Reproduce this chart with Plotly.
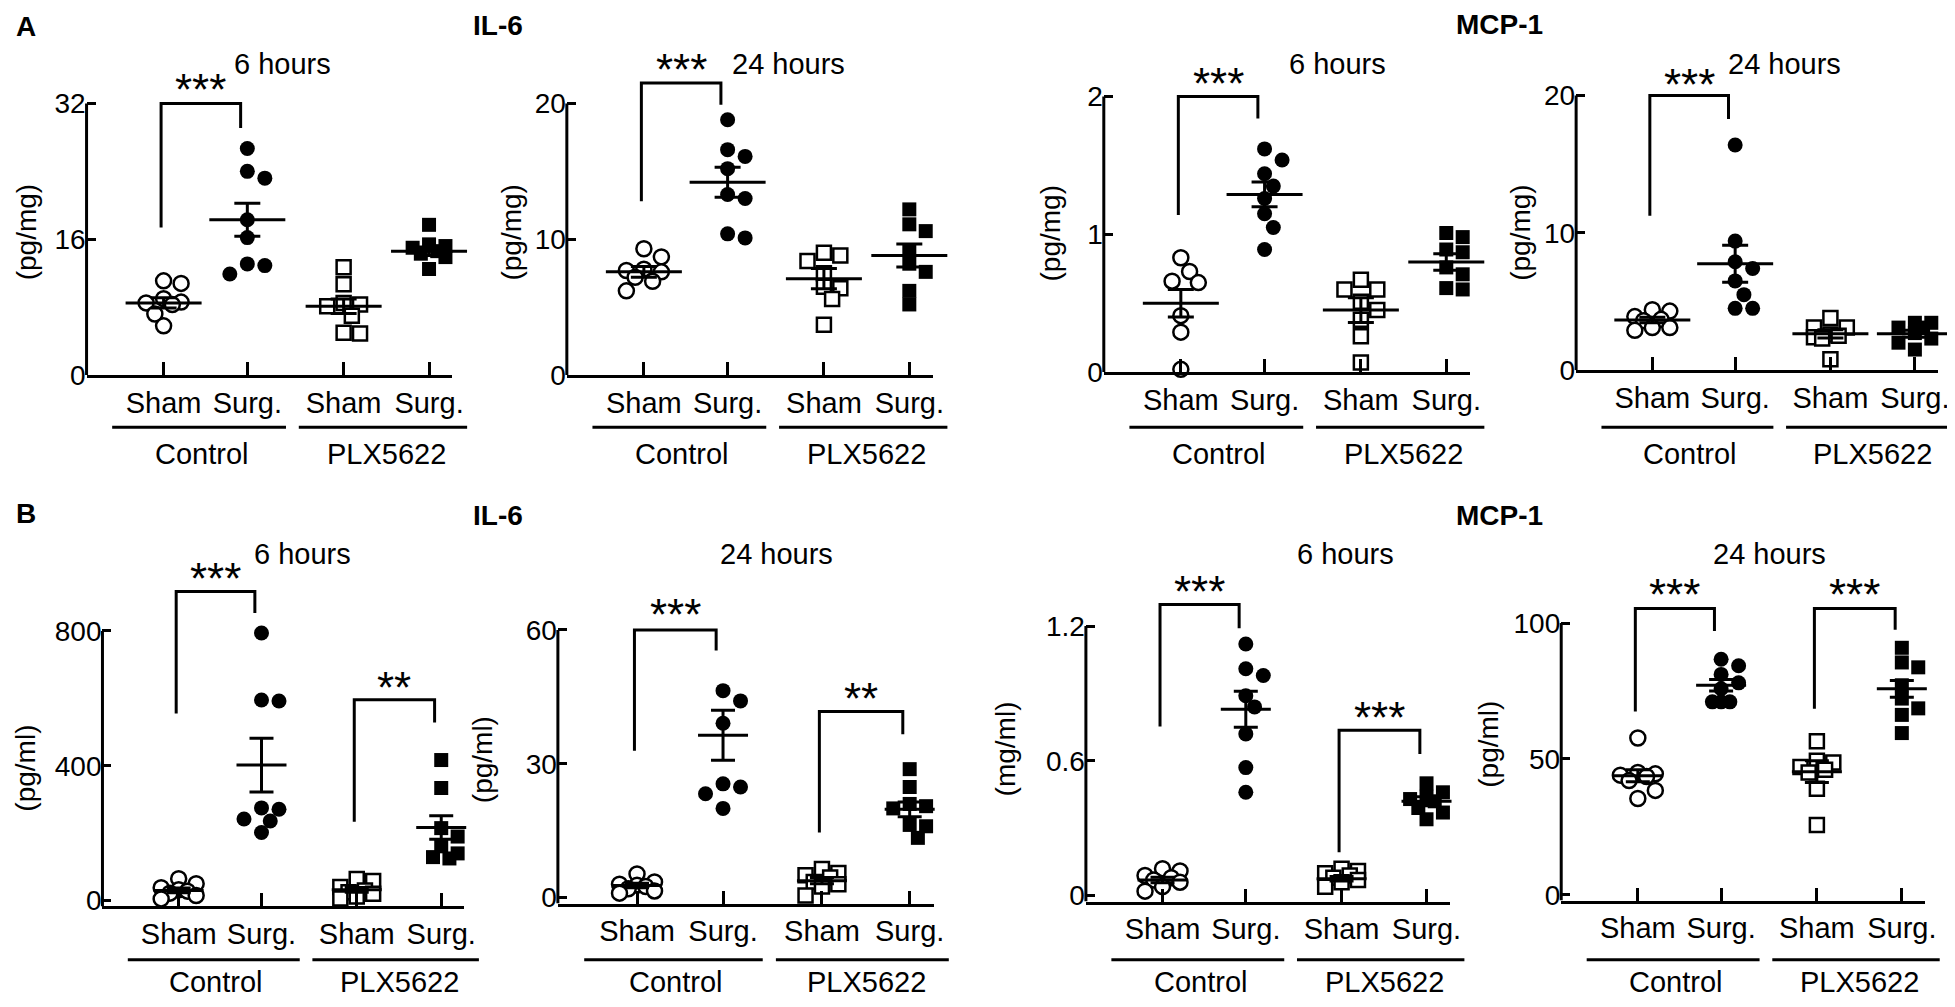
import plotly.graph_objects as go

W, H = 1955, 1007
FONT = "Liberation Sans, Arial, Helvetica, sans-serif"

# ---------------- categories ----------------
group_labels = ["Sham", "Surg.", "Sham", "Surg."]
treatments = ["Control", "PLX5622"]
group_x = [1, 2, 3.15, 4.17]
x_range = [0.08, 4.45]

# ---------------- A: tissue (pg/mg) ----------------
# order in every panel: Control Sham, Control Surg., PLX5622 Sham, PLX5622 Surg.
a_il6_6h = [
    [11.1, 10.8, 9.0, 8.6, 8.5, 8.3, 7.2, 5.8],
    [26.7, 24.0, 23.2, 18.3, 16.2, 13.1, 12.9, 11.9],
    [12.7, 10.7, 8.5, 8.3, 8.1, 7.0, 5.0, 4.9],
    [17.7, 15.4, 15.2, 15.0, 14.6, 14.3, 13.9, 12.5],
]
a_il6_6h_mean = [8.5, 18.3, 8.1, 14.6]
a_il6_6h_sem = [0.6, 1.95, 0.85, 0.5]

a_il6_24h = [
    [9.3, 8.7, 7.8, 7.7, 7.6, 7.2, 6.9, 6.2],
    [18.8, 16.6, 16.1, 15.2, 13.3, 13.0, 10.4, 10.1],
    [9.0, 8.8, 8.4, 7.5, 6.5, 6.4, 5.6, 3.7],
    [12.2, 11.1, 10.6, 9.2, 8.2, 7.6, 6.2, 5.2],
]
a_il6_24h_mean = [7.6, 14.2, 7.1, 8.8]
a_il6_24h_sem = [0.4, 1.1, 0.75, 0.85]

a_mcp1_6h = [
    [0.83, 0.73, 0.66, 0.65, 0.41, 0.29, 0.02],
    [1.62, 1.54, 1.44, 1.35, 1.26, 1.15, 1.05, 0.89],
    [0.67, 0.60, 0.60, 0.51, 0.45, 0.38, 0.26, 0.07],
    [1.01, 0.98, 0.89, 0.87, 0.76, 0.71, 0.61, 0.60],
]
a_mcp1_6h_mean = [0.50, 1.29, 0.45, 0.80]
a_mcp1_6h_sem = [0.10, 0.09, 0.09, 0.06]

a_mcp1_24h = [
    [4.4, 4.3, 3.9, 3.7, 3.6, 3.1, 3.1, 2.9],
    [16.4, 9.4, 7.9, 7.4, 6.5, 5.5, 4.5, 4.5],
    [3.8, 3.1, 3.1, 2.6, 2.5, 2.4, 2.3, 0.8],
    [3.45, 3.45, 3.1, 3.1, 2.7, 2.3, 2.0, 1.5],
]
a_mcp1_24h_mean = [3.65, 7.75, 2.65, 2.65]
a_mcp1_24h_sem = [0.2, 1.35, 0.3, 0.25]

# ---------------- B: plasma ----------------
b_il6_6h = [
    [65, 50, 38, 32, 28, 22, 15, 5],
    [794, 595, 592, 275, 271, 242, 236, 202],
    [64, 58, 40, 30, 25, 20, 12, 6],
    [417, 334, 215, 190, 161, 140, 129, 125],
]
b_il6_6h_mean = [30, 402, 32, 217]
b_il6_6h_sem = [7, 80, 7, 35]

b_il6_24h = [
    [5.3, 3.5, 3.0, 2.8, 2.5, 2.0, 1.5, 1.0],
    [46.4, 44.1, 39.1, 25.5, 24.8, 23.3, 20.0],
    [6.4, 5.5, 5.0, 4.5, 3.5, 3.0, 2.5, 0.5],
    [28.8, 24.8, 21.0, 20.5, 20.0, 16.3, 16.0, 13.4],
]
b_il6_24h_mean = [2.7, 36.4, 3.8, 19.8]
b_il6_24h_sem = [0.5, 5.6, 0.7, 1.65]

b_mcp1_6h = [
    [0.12, 0.11, 0.09, 0.08, 0.07, 0.06, 0.04, 0.02],
    [1.12, 1.01, 0.98, 0.89, 0.84, 0.72, 0.57, 0.46],
    [0.12, 0.11, 0.10, 0.09, 0.08, 0.07, 0.06, 0.04],
    [0.50, 0.46, 0.44, 0.43, 0.42, 0.39, 0.37, 0.34],
]
b_mcp1_6h_mean = [0.07, 0.83, 0.075, 0.42]
b_mcp1_6h_sem = [0.012, 0.08, 0.01, 0.02]

b_mcp1_24h = [
    [57.7, 45.0, 44.5, 44.0, 43.5, 42.0, 38.4, 35.4],
    [86.7, 84.3, 81.1, 78.0, 75.8, 71.0, 71.0, 71.0],
    [56.5, 49.3, 48.7, 47.0, 46.0, 45.0, 39.0, 25.7],
    [90.9, 85.5, 83.7, 77.1, 72.2, 68.6, 66.2, 59.5],
]
b_mcp1_24h_mean = [43.8, 77.1, 45.3, 75.8]
b_mcp1_24h_sem = [2.2, 2.1, 4.0, 3.1]

# significance brackets: (first group, left end, top, right end, stars, stars height)
a_il6_6h_sig = [(0, 17.4, 32.0, 29.1, "***", 34.0)]
a_il6_24h_sig = [(0, 12.8, 21.5, 19.9, "***", 22.7)]
a_mcp1_6h_sig = [(0, 1.14, 2.0, 1.84, "***", 2.12)]
a_mcp1_24h_sig = [(0, 11.25, 20.0, 18.3, "***", 21.0)]
b_il6_6h_sig = [(0, 555, 917, 853, "***", 963), (2, 234, 596, 528, "**", 642)]
b_il6_24h_sig = [(0, 32.9, 60, 55.4, "***", 64.2), (2, 14.6, 41.7, 36.6, "**", 45.4)]
b_mcp1_6h_sig = [(0, 0.753, 1.296, 1.19, "***", 1.367), (2, 0.193, 0.736, 0.631, "***", 0.806)]
b_mcp1_24h_sig = [(0, 67.4, 105.4, 97.1, "***", 111.6), (2, 68.5, 105.4, 97.5, "***", 111.6)]

# ---------------- panel layout (pixels) ----------------
rows = {
    "A": dict(offset=0, dom_top=25, title_y=57, label_y=453, line_y=426, mean_len=76, cap=13),
    "B": dict(offset=6, dom_top=530, title_y=555, label_y=990, line_y=967, mean_len=50, cap=12),
}

panels = [
    dict(row="A", data=a_il6_6h, mean=a_il6_6h_mean, sem=a_il6_6h_sem, sig=a_il6_6h_sig,
         ticks=[0, 16, 32], left=79, right=447, zero=373, top_px=97,
         title="6 hours", title_x=0.535, ylab="(pg/mg)", ylab_xy=(18, 228)),
    dict(row="A", data=a_il6_24h, mean=a_il6_24h_mean, sem=a_il6_24h_sem, sig=a_il6_24h_sig,
         ticks=[0, 10, 20], left=562, right=930, zero=373, top_px=97,
         title="24 hours", title_x=0.606, ylab="(pg/mg)", ylab_xy=(506, 228)),
    dict(row="A", data=a_mcp1_6h, mean=a_mcp1_6h_mean, sem=a_mcp1_6h_sem, sig=a_mcp1_6h_sig,
         ticks=[0, 1, 2], left=1102, right=1470, zero=370, top_px=90,
         title="6 hours", title_x=0.639, ylab="(pg/mg)", ylab_xy=(1048, 229)),
    dict(row="A", data=a_mcp1_24h, mean=a_mcp1_24h_mean, sem=a_mcp1_24h_sem, sig=a_mcp1_24h_sig,
         ticks=[0, 10, 20], left=1577, right=1941, zero=368, top_px=89,
         title="24 hours", title_x=0.575, ylab="(pg/mg)", ylab_xy=(1521, 228)),
    dict(row="B", data=b_il6_6h, mean=b_il6_6h_mean, sem=b_il6_6h_sem, sig=b_il6_6h_sig,
         ticks=[0, 400, 800], left=95, right=459, zero=907, top_px=633,
         title="6 hours", title_x=0.552, ylab="(pg/ml)", ylab_xy=(18, 772)),
    dict(row="B", data=b_il6_24h, mean=b_il6_24h_mean, sem=b_il6_24h_sem, sig=b_il6_24h_sig,
         ticks=[0, 30, 60], left=553, right=931, zero=904, top_px=632,
         title="24 hours", title_x=0.582, ylab="(pg/ml)", ylab_xy=(478, 764)),
    dict(row="B", data=b_mcp1_6h, mean=b_mcp1_6h_mean, sem=b_mcp1_6h_sem, sig=b_mcp1_6h_sig,
         ticks=[0, 0.6, 1.2], left=1084, right=1450, zero=902, top_px=628,
         title="6 hours", title_x=0.713, ylab="(mg/ml)", ylab_xy=(1003, 753)),
    dict(row="B", data=b_mcp1_24h, mean=b_mcp1_24h_mean, sem=b_mcp1_24h_sem, sig=b_mcp1_24h_sig,
         ticks=[0, 50, 100], left=1562, right=1928, zero=901, top_px=625,
         title="24 hours", title_x=0.571, ylab="(pg/ml)", ylab_xy=(1488, 748)),
]

header_labels = [("A", 18, 19), ("IL-6", 493, 18), ("MCP-1", 1500, 17),
                 ("B", 18, 514), ("IL-6", 493, 516), ("MCP-1", 1500, 516)]

marker_styles = [("circle", "white", 15), ("circle", "black", 15),
                 ("square", "white", 14), ("square", "black", 14)]


def swarm(vals, k, u, d):
    """compact beeswarm (overlap allowed, like GraphPad): offsets in x units"""
    step = 0.55 * d
    cands = [0.0, step, -step, 2 * step, -2 * step]
    placed = []
    out = []
    for v in vals:
        py = v * k
        best, best_gap = 0.0, -1.0
        for c in cands:
            gap = min((((c - qx) ** 2 + (py - qy) ** 2) ** 0.5 for qx, qy in placed), default=1e9)
            if gap >= 0.9 * d:
                best = c
                break
            if gap > best_gap + 0.5:
                best, best_gap = c, gap
        placed.append((best, py))
        out.append(best / u)
    return out


def text(x, y, s, size, **kw):
    d = dict(xref="paper", yref="paper", x=x, y=y, text=s, showarrow=False,
             xanchor="center", yanchor="middle", font=dict(size=size))
    d.update(kw)
    return d


fig = go.Figure()
layout = dict(width=W, height=H, margin=dict(l=0, r=0, t=0, b=0), autosize=False,
              paper_bgcolor="white", plot_bgcolor="white", showlegend=False,
              font=dict(family=FONT, color="black"))
shapes, annotations = [], []

for n, p in enumerate(panels, start=1):
    r = rows[p["row"]]
    sfx = "" if n == 1 else str(n)
    xr, yr = "x" + sfx, "y" + sfx
    top_val = p["ticks"][-1]
    k = (p["zero"] - p["top_px"]) / top_val
    wpx = p["right"] - p["left"]
    u = wpx / (x_range[1] - x_range[0])
    bottom_px = p["zero"] + r["offset"]
    ylo = -(bottom_px - p["zero"]) / k
    yhi = (p["zero"] - r["dom_top"]) / k

    layout["xaxis" + sfx] = dict(
        domain=[p["left"] / W, p["right"] / W], range=x_range, anchor=yr,
        tickvals=group_x, ticktext=group_labels, ticks="inside", ticklen=13, tickwidth=3,
        tickcolor="black", showline=True, linewidth=3, linecolor="black",
        showgrid=False, zeroline=False, tickfont=dict(size=29), fixedrange=True)
    layout["yaxis" + sfx] = dict(
        domain=[1 - bottom_px / H, 1 - r["dom_top"] / H], range=[ylo, yhi], anchor=xr,
        tickvals=p["ticks"], ticktext=[f"{t:g}" for t in p["ticks"]], ticks="inside",
        ticklen=9, tickwidth=3, tickcolor="black", showline=False, showgrid=False,
        zeroline=False, tickfont=dict(size=28), fixedrange=True)

    # points
    for g, vals in enumerate(p["data"]):
        sym, col, size = marker_styles[g]
        dx = swarm(vals, k, u, size + 1)
        fig.add_trace(go.Scatter(
            x=[group_x[g] + d for d in dx], y=vals, mode="markers", xaxis=xr, yaxis=yr,
            marker=dict(symbol=sym, size=size, color=col,
                        line=dict(color="black", width=2.5 if col == "white" else 0)),
            hoverinfo="y", cliponaxis=False))

    # mean +/- SEM
    fig.add_trace(go.Scatter(
        x=group_x, y=p["mean"], mode="markers", xaxis=xr, yaxis=yr,
        marker=dict(symbol="line-ew", size=r["mean_len"] / 1.4, color="black",
                    line=dict(color="black", width=3)),
        error_y=dict(type="data", array=p["sem"], visible=True, thickness=3,
                     width=r["cap"], color="black"),
        hoverinfo="y", cliponaxis=False))

    # y axis line only up to the top tick
    shapes.append(dict(type="line", xref=xr + " domain", yref=yr, x0=0, x1=0, y0=ylo, y1=top_val,
                       line=dict(color="black", width=3)))

    # significance brackets
    for g, yl, yt, yrt, stars, ys in p["sig"]:
        xl, xrt = group_x[g] - 0.03, group_x[g + 1] - 0.08
        shapes.append(dict(type="path", xref=xr, yref=yr,
                           path=f"M {xl},{yl} L {xl},{yt} L {xrt},{yt} L {xrt},{yrt}",
                           line=dict(color="black", width=3)))
        annotations.append(dict(xref=xr, yref=yr, x=(xl + xrt) / 2, y=ys,
                                text=stars, showarrow=False,
                                xanchor="center", yanchor="middle",
                                font=dict(size=44), yshift=-3))

    # group underline + treatment names
    for (a0, a1), cx, name in zip([(0.07, 0.545), (0.58, 1.04)], [0.315, 0.82], treatments):
        x0 = (p["left"] + a0 * wpx) / W
        x1 = (p["left"] + a1 * wpx) / W
        shapes.append(dict(type="line", xref="paper", yref="paper", x0=x0, x1=x1,
                           y0=1 - r["line_y"] / H, y1=1 - r["line_y"] / H,
                           line=dict(color="black", width=3)))
        annotations.append(text((p["left"] + cx * wpx) / W, 1 - r["label_y"] / H, name, 29))

    # time point title and y label
    annotations.append(text((p["left"] + p["title_x"] * wpx) / W, 1 - r["title_y"] / H,
                            p["title"], 29))
    annotations.append(text(p["ylab_xy"][0] / W, 1 - p["ylab_xy"][1] / H, p["ylab"], 28,
                            textangle=-90))

for txt, px, py in header_labels:
    annotations.append(text(px / W, 1 - py / H, f"<b>{txt}</b>", 28))

layout["shapes"] = shapes
layout["annotations"] = annotations
fig.update_layout(**layout)

fig.write_html("out.html")
